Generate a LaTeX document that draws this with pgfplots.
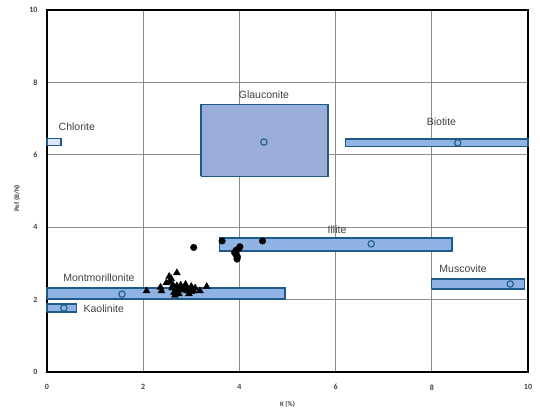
\documentclass[border=0pt]{standalone}
\usepackage{fontspec}
\setmainfont{Liberation Sans}
\newfontfamily\tickfont{Carlito}
\usepackage{pgfplots}
\pgfplotsset{compat=1.18}
\definecolor{boxfill}{HTML}{8FB4E3}
\definecolor{glaufill}{HTML}{9AAED9}
\definecolor{chlfill}{HTML}{DCE8F6}
\definecolor{boxedge}{HTML}{1F5A8C}
\definecolor{labtxt}{HTML}{404040}
\begin{document}
\begin{tikzpicture}[x=1pt,y=1pt]
\begin{axis}[
  name=ax,
  scale only axis,
  width=481pt, height=362pt,
  xmin=0, xmax=10, ymin=0, ymax=10,
  xtick={0,2,...,10}, ytick={0,2,...,10},
  grid=major,
  major grid style={draw=black!45, line width=0.8pt},
  axis line style={line width=2.2pt, black},
  tick style={draw=none},
  /pgf/number format/assume math mode=true,
  ticklabel style={font=\tickfont\bfseries\fontsize{8}{9}\selectfont, text=black!75},
  xticklabel style={yshift=-9pt},
  yticklabel style={xshift=-6pt},
  xlabel={K (\%)},
  ylabel={Pef (B/N)},
  label style={font=\tickfont\bfseries\fontsize{7}{8}\selectfont, text=black!75},
  xlabel style={at={(axis description cs:0.5,0)}, anchor=center, yshift=-32pt},
  ylabel style={at={(axis description cs:-0.062,0.48)}, anchor=center},
  clip=false,
]
% mineral boxes
\addplot[draw=boxedge, line width=1.3pt, fill=chlfill] coordinates {(0,6.25) (0.29,6.25) (0.29,6.45) (0,6.45) (0,6.25)};
\addplot[draw=boxedge, line width=1.3pt, fill=glaufill] coordinates {(3.2,5.41) (5.84,5.41) (5.84,7.38) (3.2,7.38) (3.2,5.41)};
\addplot[draw=boxedge, line width=1.3pt, fill=boxfill] coordinates {(6.2,6.22) (10,6.22) (10,6.44) (6.2,6.44) (6.2,6.22)};
\addplot[draw=boxedge, line width=1.3pt, fill=boxfill] coordinates {(3.58,3.34) (8.42,3.34) (8.42,3.70) (3.58,3.70) (3.58,3.34)};
\addplot[draw=boxedge, line width=1.3pt, fill=boxfill] coordinates {(0,2.02) (4.95,2.02) (4.95,2.32) (0,2.32) (0,2.02)};
\addplot[draw=boxedge, line width=1.3pt, fill=boxfill] coordinates {(0,1.66) (0.62,1.66) (0.62,1.88) (0,1.88) (0,1.66)};
\addplot[draw=boxedge, line width=1.3pt, fill=boxfill] coordinates {(8.0,2.29) (9.92,2.29) (9.92,2.57) (8.0,2.57) (8.0,2.29)};
% mineral reference points
\addplot[only marks, mark=o, mark size=3.2pt, mark options={draw=boxedge, line width=1.1pt, fill=boxfill}] coordinates {
(4.51,6.35) (8.54,6.33) (6.74,3.54) (1.56,2.15) (0.35,1.77) (9.63,2.43)};
% labels
\begin{scope}[every node/.style={font=\fontsize{10.5}{12}\selectfont, text=labtxt}]
\node at (axis cs:0.62,6.78) {Chlorite};
\node at (axis cs:4.51,7.66) {Glauconite};
\node at (axis cs:8.2,6.92) {Biotite};
\node at (axis cs:6.03,3.92) {Illite};
\node at (axis cs:1.08,2.61) {Montmorillonite};
\node at (axis cs:1.18,1.74) {Kaolinite};
\node at (axis cs:8.65,2.86) {Muscovite};
\end{scope}
% samples: circles
\addplot[only marks, mark=*, mark size=3.3pt, black] coordinates {
(3.05,3.44) (3.64,3.62) (4.48,3.62) (4.01,3.46) (3.93,3.36) (3.90,3.30) (3.93,3.24) (3.96,3.18) (3.95,3.12) (3.98,3.40)};
% samples: triangles
\addplot[only marks, mark=triangle*, mark size=4pt, black] coordinates {
(2.07,2.24) (2.36,2.34) (2.38,2.24) (2.54,2.64) (2.70,2.74) (2.48,2.46) (2.56,2.48) (2.60,2.32) (2.64,2.20) (2.70,2.38)
(2.74,2.16) (2.78,2.40) (2.84,2.26) (2.90,2.34) (2.95,2.16) (3.00,2.36) (3.05,2.24) (2.70,2.26) (2.62,2.40) (2.80,2.30)
(2.88,2.42) (3.00,2.22) (2.66,2.12) (2.92,2.24) (3.18,2.24) (3.32,2.36) (2.58,2.58) (3.08,2.32)};
\end{axis}
\pgfresetboundingbox
\path (ax.south west) ++(-47pt,-35pt) rectangle ++(540pt,407pt);
\end{tikzpicture}
\end{document}
